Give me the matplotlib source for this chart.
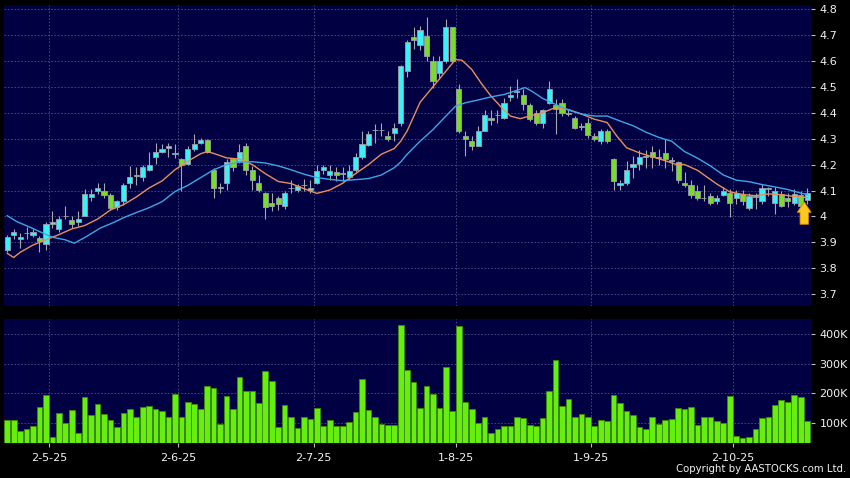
import matplotlib
matplotlib.use("Agg")
import matplotlib.pyplot as plt
from matplotlib.ticker import FuncFormatter

# daily candles, oldest first
opens = [3.870, 3.930, 3.915, 3.935, 3.930, 3.917, 3.895, 3.970, 3.950, 4.000,
         3.985, 3.980, 4.000, 4.075, 4.100, 4.100, 4.083, 4.035, 4.058, 4.130,
         4.155, 4.152, 4.180, 4.230, 4.250, 4.262, 4.240, 4.220, 4.203, 4.261,
         4.284, 4.294, 4.181, 4.111, 4.130, 4.220, 4.215, 4.272, 4.180, 4.128,
         4.090, 4.051, 4.070, 4.040, 4.108, 4.102, 4.120, 4.102, 4.128, 4.180,
         4.160, 4.170, 4.165, 4.152, 4.180, 4.231, 4.274, 4.332, 4.332, 4.310,
         4.320, 4.361, 4.561, 4.690, 4.662, 4.697, 4.600, 4.552, 4.600, 4.729,
         4.490, 4.312, 4.292, 4.273, 4.331, 4.380, 4.390, 4.380, 4.461, 4.480,
         4.467, 4.430, 4.400, 4.361, 4.439, 4.429, 4.439, 4.400, 4.381, 4.343,
         4.362, 4.310, 4.291, 4.329, 4.222, 4.121, 4.129, 4.191, 4.204, 4.230,
         4.248, 4.225, 4.243, 4.215, 4.209, 4.130, 4.120, 4.100, 4.070, 4.080,
         4.058, 4.084, 4.090, 4.071, 4.088, 4.032, 4.075, 4.058, 4.105, 4.051,
         4.088, 4.071, 4.051, 4.082, 4.062]
highs = [3.930, 3.950, 3.935, 3.960, 3.950, 3.925, 3.980, 4.020, 4.000, 4.040,
         4.000, 4.020, 4.105, 4.105, 4.130, 4.130, 4.090, 4.065, 4.130, 4.194,
         4.190, 4.200, 4.250, 4.285, 4.280, 4.284, 4.280, 4.225, 4.271, 4.319,
         4.303, 4.297, 4.187, 4.130, 4.220, 4.226, 4.278, 4.284, 4.194, 4.161,
         4.096, 4.090, 4.080, 4.100, 4.140, 4.125, 4.145, 4.140, 4.200, 4.200,
         4.200, 4.190, 4.190, 4.200, 4.245, 4.330, 4.330, 4.355, 4.360, 4.330,
         4.360, 4.585, 4.680, 4.730, 4.735, 4.768, 4.620, 4.620, 4.760, 4.729,
         4.510, 4.328, 4.312, 4.348, 4.412, 4.412, 4.412, 4.458, 4.503, 4.530,
         4.490, 4.438, 4.412, 4.415, 4.523, 4.452, 4.452, 4.413, 4.387, 4.360,
         4.381, 4.323, 4.336, 4.336, 4.225, 4.142, 4.213, 4.233, 4.258, 4.258,
         4.271, 4.260, 4.297, 4.230, 4.215, 4.170, 4.140, 4.120, 4.120, 4.090,
         4.083, 4.115, 4.105, 4.103, 4.103, 4.090, 4.090, 4.125, 4.115, 4.115,
         4.100, 4.090, 4.105, 4.100, 4.110]
lows = [3.865, 3.915, 3.880, 3.915, 3.920, 3.865, 3.870, 3.955, 3.940, 3.990,
        3.955, 3.965, 4.000, 4.060, 4.085, 4.070, 4.024, 4.025, 4.045, 4.110,
        4.120, 4.135, 4.175, 4.203, 4.245, 4.231, 4.225, 4.100, 4.198, 4.252,
        4.278, 4.245, 4.070, 4.090, 4.103, 4.175, 4.207, 4.161, 4.103, 4.096,
        3.990, 4.020, 4.025, 4.030, 4.090, 4.095, 4.100, 4.090, 4.125, 4.165,
        4.140, 4.135, 4.135, 4.140, 4.170, 4.222, 4.270, 4.285, 4.310, 4.290,
        4.290, 4.350, 4.539, 4.645, 4.640, 4.600, 4.496, 4.529, 4.593, 4.593,
        4.322, 4.232, 4.257, 4.270, 4.328, 4.354, 4.360, 4.374, 4.445, 4.458,
        4.412, 4.367, 4.354, 4.340, 4.433, 4.316, 4.387, 4.387, 4.336, 4.335,
        4.304, 4.290, 4.278, 4.284, 4.103, 4.103, 4.123, 4.149, 4.181, 4.187,
        4.187, 4.200, 4.187, 4.175, 4.130, 4.115, 4.070, 4.065, 4.060, 4.045,
        4.050, 4.077, 3.999, 4.050, 4.045, 4.025, 4.030, 4.050, 4.080, 4.010,
        4.035, 4.035, 4.045, 4.030, 4.050]
closes = [3.920, 3.940, 3.922, 3.935, 3.940, 3.905, 3.970, 3.980, 3.990, 4.000,
          3.972, 3.990, 4.085, 4.085, 4.110, 4.083, 4.031, 4.060, 4.123, 4.153,
          4.155, 4.191, 4.200, 4.248, 4.260, 4.273, 4.240, 4.200, 4.261, 4.280,
          4.294, 4.248, 4.109, 4.111, 4.210, 4.190, 4.248, 4.180, 4.142, 4.102,
          4.038, 4.040, 4.050, 4.090, 4.108, 4.119, 4.120, 4.110, 4.177, 4.190,
          4.176, 4.160, 4.165, 4.177, 4.229, 4.278, 4.319, 4.332, 4.332, 4.300,
          4.340, 4.578, 4.671, 4.680, 4.720, 4.619, 4.522, 4.600, 4.729, 4.600,
          4.328, 4.300, 4.273, 4.331, 4.392, 4.370, 4.390, 4.436, 4.470, 4.480,
          4.432, 4.374, 4.361, 4.410, 4.491, 4.413, 4.400, 4.394, 4.342, 4.349,
          4.313, 4.300, 4.329, 4.291, 4.136, 4.129, 4.181, 4.203, 4.230, 4.230,
          4.230, 4.225, 4.222, 4.215, 4.141, 4.122, 4.082, 4.071, 4.070, 4.051,
          4.070, 4.100, 4.051, 4.090, 4.058, 4.080, 4.075, 4.108, 4.105, 4.100,
          4.041, 4.058, 4.088, 4.039, 4.090]
volumes_k = [110, 111, 74, 81, 91, 155, 194, 53, 133, 100,
             145, 65, 189, 126, 163, 131, 109, 85, 135, 147,
             119, 154, 157, 149, 142, 120, 198, 119, 172, 164,
             149, 225, 218, 96, 192, 147, 255, 209, 207, 167,
             275, 243, 87, 162, 120, 82, 122, 113, 151, 90,
             110, 89, 90, 103, 136, 248, 143, 120, 97, 94,
             94, 431, 280, 238, 151, 226, 198, 152, 290, 142,
             428, 171, 149, 101, 122, 66, 79, 90, 91, 122,
             118, 95, 90, 117, 209, 313, 158, 182, 119, 131,
             122, 91, 111, 106, 194, 167, 139, 128, 87, 80,
             121, 98, 110, 115, 151, 149, 155, 93, 121, 121,
             106, 100, 192, 56, 51, 53, 81, 117, 121, 160,
             178, 170, 194, 188, 108]

# moving averages (bar index, price)
ma10_idx = [0, 1, 2, 4, 6, 8, 10, 12, 14, 16, 18, 20, 22, 24, 26, 28, 30, 31, 32, 34,
            36, 38, 40, 42, 44, 46, 48, 50, 52, 54, 56, 58, 60, 61, 62, 64, 66, 68, 69.5,
            70.5, 72, 73.6, 75, 77, 78, 79.5, 81, 83, 85, 87, 89, 91, 93, 94.5, 96, 98,
            100, 102, 103.5, 105, 107, 110, 112, 114, 116, 118, 120, 122, 124]
ma10_val = [3.858, 3.842, 3.862, 3.890, 3.910, 3.930, 3.952, 3.965, 3.990, 4.025, 4.045,
            4.075, 4.110, 4.137, 4.180, 4.213, 4.242, 4.250, 4.243, 4.226, 4.221, 4.200,
            4.165, 4.135, 4.127, 4.107, 4.089, 4.102, 4.128, 4.165, 4.200, 4.240, 4.262,
            4.290, 4.330, 4.440, 4.500, 4.560, 4.605, 4.602, 4.567, 4.509, 4.464, 4.410,
            4.387, 4.377, 4.387, 4.400, 4.420, 4.412, 4.395, 4.375, 4.362, 4.310, 4.265,
            4.245, 4.230, 4.215, 4.202, 4.200, 4.178, 4.125, 4.095, 4.085, 4.080, 4.087,
            4.084, 4.077, 4.073]
ma20_idx = [0, 1.5, 3.4, 5, 7, 9, 10.4, 12.3, 14.4, 16.5, 18, 20, 22, 24, 26, 28, 30, 32,
            34, 36, 38, 40, 42, 44, 46, 48, 50, 52, 54, 56, 58, 60, 61, 62, 64, 66, 68,
            69.5, 71, 73, 75, 77, 79, 80.3, 81.5, 83, 85, 87, 89, 91, 93, 95, 97, 99,
            101, 103, 105, 107, 109, 111, 113, 115, 117, 119, 121, 123, 124]
ma20_val = [4.003, 3.980, 3.960, 3.942, 3.920, 3.910, 3.897, 3.923, 3.955, 3.977, 3.995,
            4.015, 4.034, 4.057, 4.096, 4.120, 4.150, 4.180, 4.200, 4.209, 4.211, 4.206,
            4.195, 4.180, 4.163, 4.150, 4.143, 4.138, 4.142, 4.146, 4.160, 4.188, 4.210,
            4.240, 4.290, 4.335, 4.387, 4.425, 4.438, 4.449, 4.461, 4.470, 4.486, 4.497,
            4.480, 4.455, 4.432, 4.410, 4.395, 4.387, 4.387, 4.368, 4.350, 4.325, 4.305,
            4.290, 4.250, 4.225, 4.195, 4.160, 4.140, 4.134, 4.123, 4.114, 4.104, 4.090,
            4.085]

date_labels = ["2-5-25", "2-6-25", "2-7-25", "1-8-25", "1-9-25", "2-10-25"]
date_pos = [6.5, 26.5, 47.5, 69.5, 90.5, 112.5]
price_ticks = [3.7, 3.8, 3.9, 4.0, 4.1, 4.2, 4.3, 4.4, 4.5, 4.6, 4.7, 4.8]
vol_ticks_k = [100, 200, 300, 400]

NAVY = "#000042"
GRID = "#4e4e88"
UP = "#3cf0f8"
DOWN = "#78dc28"
VOL = "#66ee11"
TXT = "#f2f2f2"

fig = plt.figure(figsize=(8.5, 4.78), dpi=100, facecolor="black")
ax = fig.add_axes([4 / 850, 1 - 306 / 478, 807 / 850, 301 / 478], facecolor=NAVY)
axv = fig.add_axes([4 / 850, 1 - 443 / 478, 807 / 850, 124 / 478], facecolor=NAVY)

n = len(closes)
xs = list(range(n))

# wicks
ax.vlines(xs, lows, highs, color="#a8a8a8", linewidth=0.8, zorder=3)
# bodies
bottoms = [min(o, c) for o, c in zip(opens, closes)]
heights = [max(abs(c - o), 0.003) for o, c in zip(opens, closes)]
colors = [UP if c >= o else DOWN for o, c in zip(opens, closes)]
ax.bar(xs, heights, bottom=bottoms, width=0.8, color=colors,
       edgecolor="#9aa0a8", linewidth=0.6, zorder=4)

ax.plot(ma10_idx, ma10_val, color="#e8905a", linewidth=1.0, zorder=5)
ax.plot(ma20_idx, ma20_val, color="#3ea6e6", linewidth=1.0, zorder=5)

# marker arrow under the latest bar
tip = lows[-1] + 0.006
ax.annotate("", xy=(n - 1.45, tip), xytext=(n - 1.45, tip - 0.086),
            arrowprops=dict(arrowstyle="simple,head_length=0.75,head_width=1.0,tail_width=0.6",
                            fc="#ffc81e", ec="#d08a00", lw=0.6, shrinkA=0, shrinkB=0),
            zorder=6)

axv.bar(xs, [v * 1000 for v in volumes_k], width=0.88, color=VOL,
        edgecolor="#3c8c00", linewidth=0.6, zorder=3)

for a in (ax, axv):
    a.set_xlim(-0.5, 124.6)
    for s in a.spines.values():
        s.set_visible(False)
    a.yaxis.tick_right()
    a.tick_params(axis="y", colors="#bbbbbb", labelcolor=TXT, labelsize=8,
                  length=3, width=0.8, pad=3, direction="out")
    a.set_xticks(date_pos)
    a.grid(True, color=GRID, linestyle=(0, (2, 2)), linewidth=0.6, zorder=0)
    a.set_axisbelow(True)

ax.set_ylim(3.655, 4.815)
ax.set_yticks(price_ticks)
ax.yaxis.set_major_formatter(FuncFormatter(lambda v, p: f"{v:g}"))
ax.tick_params(axis="x", length=0, labelbottom=False)

axv.set_ylim(32600, 451000)
axv.set_yticks([v * 1000 for v in vol_ticks_k])
axv.yaxis.set_major_formatter(FuncFormatter(lambda v, p: f"{int(round(v / 1000))}K"))
axv.set_xticklabels(date_labels)
axv.tick_params(axis="x", colors="#bbbbbb", labelcolor=TXT, labelsize=8,
                length=3, width=0.8, pad=4, direction="out")

fig.text(0.995, 0.008, "Copyright by AASTOCKS.com Ltd.", ha="right", va="bottom",
         fontsize=7.3, color=TXT)

fig.savefig("out.png", dpi=100, facecolor="black")
